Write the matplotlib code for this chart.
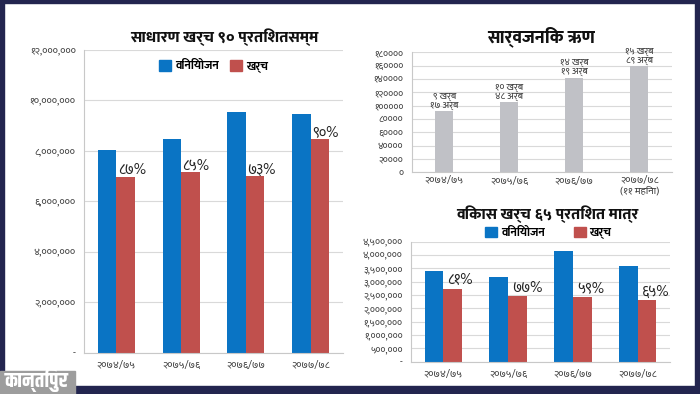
import matplotlib
matplotlib.use("Agg")
import matplotlib.pyplot as plt
from matplotlib import font_manager
from matplotlib.patches import Rectangle, Patch
from matplotlib.ticker import FuncFormatter, MultipleLocator
import numpy as np

# --- data ---
years = ["२०७४/७५", "२०७५/७६", "२०७६/७७", "२०७७/७८"]
debt_years = ["२०७४/७५", "२०७५/७६", "२०७६/७७", "२०७७/७८\n(११ महिना)"]

general_alloc = [8020000, 8440000, 9510000, 9450000]
general_spent = [6940000, 7140000, 6980000, 8470000]
general_pct = ["८७%", "८५%", "७३%", "९०%"]

debt = [91700, 104800, 141900, 158900]
debt_labels = ["९ खर्ब\n१७ अर्ब", "१० खर्ब\n४८ अर्ब", "१४ खर्ब\n१९ अर्ब", "१५ खर्ब\n८९ अर्ब"]

dev_alloc = [3400000, 3180000, 4140000, 3580000]
dev_spent = [2740000, 2460000, 2430000, 2310000]
dev_pct = ["८१%", "७७%", "५९%", "६५%"]

BLUE = "#0a74c4"
RED = "#c0504d"
GRAY_BAR = "#c0c1c6"
GRID = "#d9d9d9"
TXT = "#3a3a3a"
NAVY = "#23254f"

names = {f.name for f in font_manager.fontManager.ttflist}


def pick(prefs):
    for p in prefs:
        if p in names:
            return p
    return "DejaVu Sans"


body_font = pick(["Mukta", "Hind", "Noto Sans Devanagari", "Yantramanav", "Poppins"])
logo_font = pick(["Khand", "Rajdhani", body_font])
plt.rcParams["font.family"] = [body_font, "DejaVu Sans"]

DIGITS = str.maketrans("0123456789", "०१२३४५६७८९")


def to_deva(v, commas=True, zero="-"):
    if v == 0:
        return zero
    s = f"{int(v):,}" if commas else str(int(v))
    return s.translate(DIGITS)


def style_axes(ax, fmt, step, top):
    ax.set_ylim(0, top)
    ax.yaxis.set_major_locator(MultipleLocator(step))
    ax.yaxis.set_major_formatter(FuncFormatter(fmt))
    ax.grid(axis="y", color=GRID, linewidth=0.8)
    ax.set_axisbelow(True)
    for s in ["top", "right"]:
        ax.spines[s].set_visible(False)
    for s in ["left", "bottom"]:
        ax.spines[s].set_color("#c8c8c8")
        ax.spines[s].set_linewidth(0.8)
    ax.tick_params(axis="both", length=0, labelsize=7.5, colors=TXT, pad=6)
    ax.set_xlim(-0.5, 3.5)


fig = plt.figure(figsize=(7, 3.94), dpi=100)
fig.patch.set_facecolor("white")

W, H = 700.0, 394.0


def px_axes(x0, x1, y_top, y_bottom):
    return fig.add_axes([x0 / W, 1 - y_bottom / H, (x1 - x0) / W, (y_bottom - y_top) / H])


def fit_width(t, target_px):
    # scale a text so its drawn width matches the reference
    r = fig.canvas.get_renderer()
    w = t.get_window_extent(r).width
    t.set_fontsize(t.get_fontsize() * target_px / w)


def title(xc, yc, s, target_px):
    t = fig.text(xc / W, 1 - yc / H, s, ha="center", va="center", fontsize=14,
                 fontweight=800, color="#111111")
    fit_width(t, target_px)


x = np.arange(len(years))
legend_kw = dict(ncol=2, frameon=False, handlelength=1.0, handleheight=1.0,
                 handletextpad=0.3, prop={"weight": "bold", "size": 8.5})

# --- left: general expenditure ---
ax1 = px_axes(84, 343, 49.5, 352.5)
bw = 0.286
ax1.bar(x - bw / 2, general_alloc, bw, color=BLUE)
ax1.bar(x + bw / 2, general_spent, bw, color=RED)
style_axes(ax1, lambda v, p: to_deva(v), 2000000, 12000000)
ax1.set_xticks(x, years)
for i in range(len(years)):
    ax1.annotate(general_pct[i], (x[i], general_spent[i]), xytext=(1, 0),
                 textcoords="offset points", ha="left", va="bottom",
                 fontsize=10.5, color="#222222")
ax1.legend(handles=[Patch(color=BLUE, label="विनियोजन"), Patch(color=RED, label="खर्च")],
           loc="upper center", bbox_to_anchor=(0.5, 1.0), columnspacing=1.0, **legend_kw)
title(224, 37, "साधारण खर्च ९० प्रतिशतसम्म", 190)

# --- top right: public debt ---
ax2 = px_axes(411.7, 671.7, 52.3, 172.3)
ax2.bar(x, debt, 0.27, color=GRAY_BAR)
style_axes(ax2, lambda v, p: to_deva(v, commas=False, zero="०"), 20000, 180000)
ax2.set_xticks(x, debt_years)
ax2.tick_params(axis="y", labelsize=7)
ax2.tick_params(axis="x", pad=3)
for i in range(len(debt)):
    ax2.annotate(debt_labels[i], (x[i], debt[i]), xytext=(0, 1),
                 textcoords="offset points", ha="center", va="bottom",
                 fontsize=7, color=TXT, linespacing=0.95)
title(541, 37, "सार्वजनिक ऋण", 108)

# --- bottom right: development expenditure ---
ax3 = px_axes(411, 670, 241.7, 361.7)
bw3 = 0.29
ax3.bar(x - bw3 / 2, dev_alloc, bw3, color=BLUE)
ax3.bar(x + bw3 / 2, dev_spent, bw3, color=RED)
style_axes(ax3, lambda v, p: to_deva(v), 500000, 4500000)
ax3.tick_params(axis="y", labelsize=7)
ax3.set_xticks(x, years)
for i in range(len(years)):
    ax3.annotate(dev_pct[i], (x[i], dev_spent[i]), xytext=(3, 1),
                 textcoords="offset points", ha="left", va="bottom",
                 fontsize=10.5, color="#222222")
ax3.legend(handles=[Patch(color=BLUE, label="विनियोजन"), Patch(color=RED, label="खर्च")],
           loc="center", bbox_to_anchor=(0.53, 1.075), columnspacing=2.5, **legend_kw)
title(547, 214, "विकास खर्च ६५ प्रतिशत मात्र", 184)

# --- frame and logo ---
for (fx, fy, fw, fh) in [(0, 0, 4, 394), (0, 0, 700, 3), (695, 0, 5, 394), (0, 386, 700, 8)]:
    fig.patches.append(Rectangle((fx / W, 1 - (fy + fh) / H), fw / W, fh / H,
                                 transform=fig.transFigure, color=NAVY, zorder=5))
fig.patches.append(Rectangle((0, 0), 75 / W, 23 / H, transform=fig.transFigure,
                             color="#9d9d9d", zorder=6))
logo = fig.text(37 / W, 1 - 380 / H, "कान्तिपुर", ha="center", va="center", fontsize=13,
                fontweight="bold", color="white", zorder=7, family=logo_font)
fit_width(logo, 62)

fig.savefig("out.png", dpi=100)
